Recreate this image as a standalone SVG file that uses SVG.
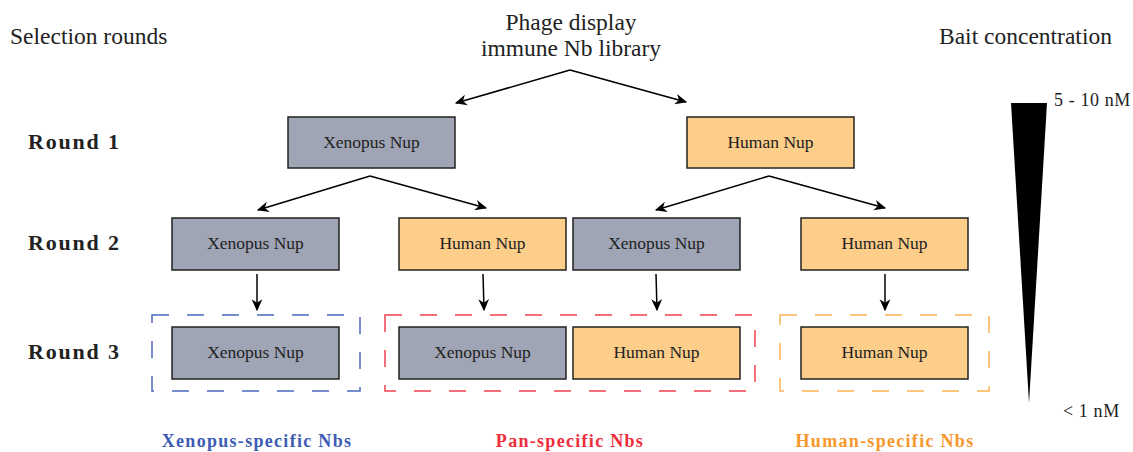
<svg xmlns="http://www.w3.org/2000/svg" width="1133" height="452" viewBox="0 0 1133 452">
<defs>
<marker id="ah" viewBox="0 0 10 10" refX="9" refY="5" markerWidth="12" markerHeight="12" markerUnits="userSpaceOnUse" orient="auto">
<path d="M0,0.5 L10,5 L0,9.5 L3,5 Z" fill="#000"/>
</marker>
<style>
text{font-family:"Liberation Serif","DejaVu Serif",serif;fill:#222;}
.big{font-size:23.5px;}
.rnd{font-size:22px;font-weight:bold;letter-spacing:1.8px;}
.lbl{font-size:17.5px;text-anchor:middle;}
.xen{fill:#a0a5b5;stroke:#222;stroke-width:1.5;}
.hum{fill:#fdcd8a;stroke:#222;stroke-width:1.5;}
.conn line{stroke:#000;stroke-width:1.5;marker-end:url(#ah);}
.dash{fill:none;stroke-width:1.5;stroke-dasharray:17 18;}
.grp{font-size:18px;font-weight:bold;text-anchor:middle;letter-spacing:1.3px;}
.sm{font-size:18px;letter-spacing:0.6px;}
</style>
</defs>
<rect width="1133" height="452" fill="#fff"/>
<text class="big" x="10" y="44">Selection rounds</text>
<text class="big" x="571" y="30" text-anchor="middle">Phage display</text>
<text class="big" x="571" y="56" text-anchor="middle">immune Nb library</text>
<text class="big" x="939" y="44">Bait concentration</text>
<text class="rnd" x="28" y="149">Round 1</text>
<text class="rnd" x="28" y="250">Round 2</text>
<text class="rnd" x="28" y="359">Round 3</text>

<g id="r1x"><rect class="xen" x="288" y="117" width="167" height="51"/><text class="lbl" x="371.5" y="148">Xenopus Nup</text></g>
<g id="r1h"><rect class="hum" x="687" y="117" width="167" height="51"/><text class="lbl" x="770.5" y="148">Human Nup</text></g>
<g id="r2x1"><rect class="xen" x="172" y="218" width="167" height="52"/><text class="lbl" x="255.5" y="249">Xenopus Nup</text></g>
<g id="r2h1"><rect class="hum" x="399" y="218" width="167" height="52"/><text class="lbl" x="482.5" y="249">Human Nup</text></g>
<g id="r2x2"><rect class="xen" x="573" y="218" width="167" height="52"/><text class="lbl" x="656.5" y="249">Xenopus Nup</text></g>
<g id="r2h2"><rect class="hum" x="801" y="218" width="167" height="52"/><text class="lbl" x="884.5" y="249">Human Nup</text></g>
<g id="r3x1"><rect class="xen" x="172" y="327" width="167" height="52"/><text class="lbl" x="255.5" y="358">Xenopus Nup</text></g>
<g id="r3x2"><rect class="xen" x="399" y="327" width="167" height="52"/><text class="lbl" x="482.5" y="358">Xenopus Nup</text></g>
<g id="r3h1"><rect class="hum" x="573" y="327" width="167" height="52"/><text class="lbl" x="656.5" y="358">Human Nup</text></g>
<g id="r3h2"><rect class="hum" x="801" y="327" width="167" height="52"/><text class="lbl" x="884.5" y="358">Human Nup</text></g>

<g id="grpX"><rect class="dash" x="152" y="315" width="208" height="76" stroke="#4a68bf"/><text class="grp" x="257" y="447" style="fill:#3d5cb3">Xenopus-specific Nbs</text></g>
<g id="grpP"><rect class="dash" x="385" y="315" width="370" height="76" stroke="#f0404f"/><text class="grp" x="570" y="447" style="fill:#ee2d3d">Pan-specific Nbs</text></g>
<g id="grpH"><rect class="dash" x="780" y="315" width="209" height="76" stroke="#fbb453"/><text class="grp" x="885" y="447" style="fill:#f7982c">Human-specific Nbs</text></g>

<g id="connectors" class="conn">
<line x1="570" y1="70" x2="456" y2="103"/>
<line x1="570" y1="70" x2="686" y2="102"/>
<line x1="370" y1="176" x2="258" y2="210"/>
<line x1="370" y1="176" x2="486" y2="208"/>
<line x1="769" y1="176" x2="656" y2="210"/>
<line x1="769" y1="176" x2="885" y2="208"/>
<line x1="257" y1="274" x2="257" y2="310"/>
<line x1="483" y1="274" x2="484" y2="310"/>
<line x1="656" y1="274" x2="657" y2="310"/>
<line x1="885" y1="274" x2="885" y2="310"/>
</g>

<g id="bait">
<polygon points="1011,103 1047,103 1029,403" fill="#000"/>
<text class="sm" x="1054" y="106">5 - 10 nM</text>
<text class="sm" x="1063" y="417">&lt; 1 nM</text>
</g>
</svg>
